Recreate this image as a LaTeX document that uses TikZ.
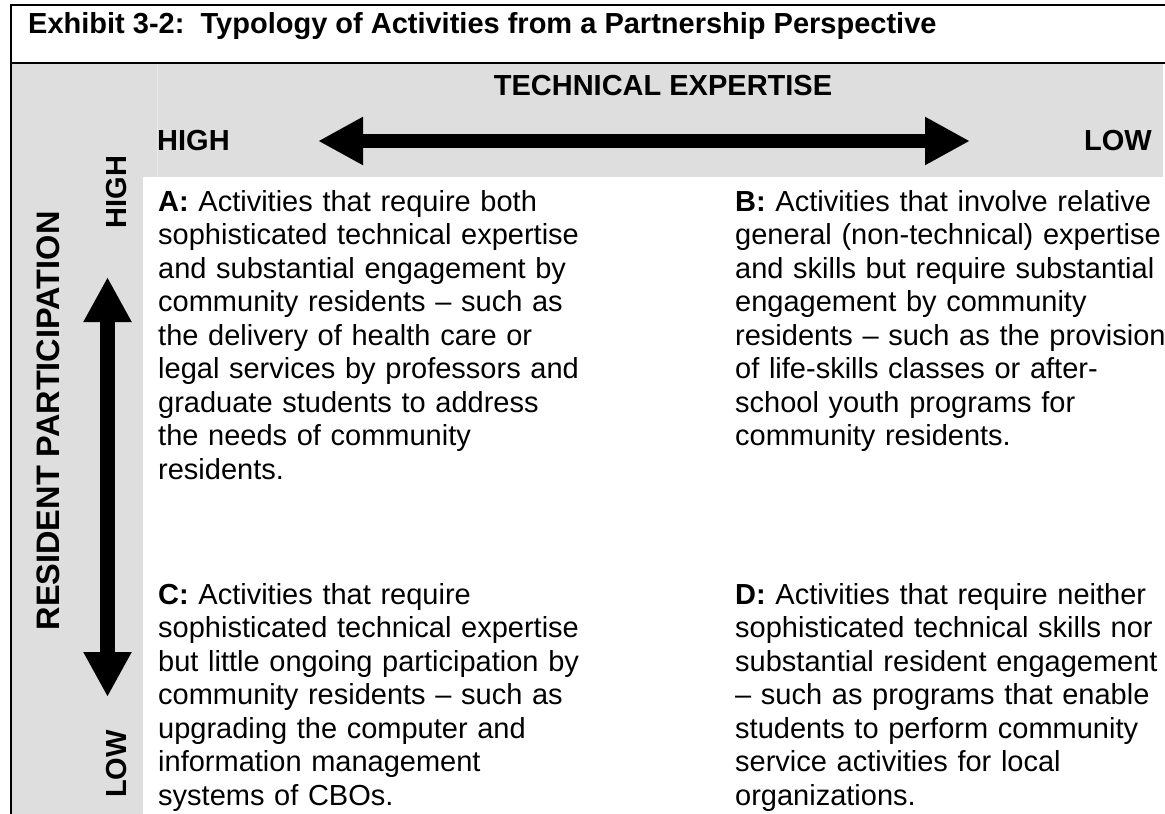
\documentclass[tikz,border=0pt]{standalone}
\usepackage{fontspec}
\setmainfont{Liberation Sans}
\usetikzlibrary{arrows.meta}
\definecolor{panelgray}{RGB}{222,222,222}
\definecolor{seamgray}{RGB}{232,232,232}
\begin{document}
\begin{tikzpicture}[x=1pt,y=-1pt,
  body/.style={font=\fontsize{29}{33.5}\selectfont, inner sep=0pt, anchor=base west, text width=600pt, align=left},
  head/.style={font=\fontsize{29}{33.5}\selectfont\bfseries, inner sep=0pt},
  bigarrow/.style={line width=14pt, {Triangle[length=45pt,width=45pt]}-{Triangle[length=45pt,width=45pt]}},
]
\useasboundingbox (0,0) rectangle (1165,814);
\fill[white] (0,0) rectangle (1165,814);
% shaded header and side column
\fill[panelgray] (12,64) rectangle (143,814);
\fill[panelgray] (143,64) rectangle (1163,177);
\draw[seamgray, line width=1pt] (157,64) -- (157,177);
% frame lines
\draw[line width=2.5pt] (11,814) -- (11,5) -- (1165,5);
\draw[line width=2pt] (11,63) -- (1165,63);
% title
\node[head, anchor=base west] (title) at (28,33) {Exhibit 3-2:\ \ Typology of Activities from a Partnership Perspective};
% horizontal axis
\node[head, anchor=base] (tech) at (663,95) {TECHNICAL EXPERTISE};
\node[head, anchor=base west] (hhigh) at (157,150) {HIGH};
\node[head, anchor=base east] (hlow) at (1152,150) {LOW};
\coordinate (hl) at (318,141);
\coordinate (hr) at (970,141);
\draw[bigarrow] (hl) -- (hr);
% vertical axis
\node[head, font=\fontsize{32.5}{36}\selectfont\bfseries, rotate=90] (resp) at (48,421) {RESIDENT PARTICIPATION};
\node[head, rotate=90] (vhigh) at (117,192) {HIGH};
\node[head, rotate=90] (vlow) at (117,764) {LOW};
\coordinate (vt) at (107.5,277);
\coordinate (vb) at (107.5,697);
\draw[bigarrow, line width=15pt] (vt) -- (vb);
% quadrants
\node[body] (qa) at (158,211) {\textbf{A:} Activities that require both\\
sophisticated technical expertise\\
and substantial engagement by\\
community residents -- such as\\
the delivery of health care or\\
legal services by professors and\\
graduate students to address\\
the needs of community\\
residents.};
\node[body] (qb) at (735,211) {\textbf{B:} Activities that involve relative\\
general (non-technical) expertise\\
and skills but require substantial\\
engagement by community\\
residents -- such as the provision\\
of life-skills classes or after-\\
school youth programs for\\
community residents.};
\node[body] (qc) at (158,604) {\textbf{C:} Activities that require\\
sophisticated technical expertise\\
but little ongoing participation by\\
community residents -- such as\\
upgrading the computer and\\
information management\\
systems of CBOs.};
\node[body] (qd) at (735,604) {\textbf{D:} Activities that require neither\\
sophisticated technical skills nor\\
substantial resident engagement\\
-- such as programs that enable\\
students to perform community\\
service activities for local\\
organizations.};
\end{tikzpicture}
\end{document}
